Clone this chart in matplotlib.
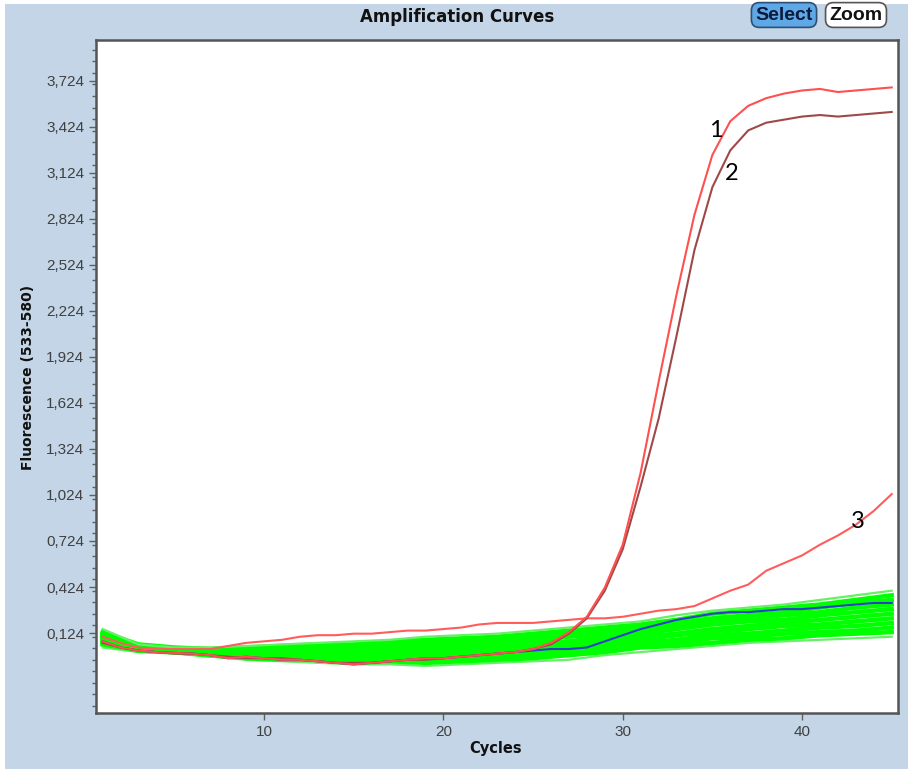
import numpy as np
import matplotlib
matplotlib.use("Agg")
import matplotlib.pyplot as plt
from matplotlib.patches import Rectangle
from matplotlib.ticker import FixedLocator, FuncFormatter

"""
amplification curves (qPCR), values read off the screenshot
"""

cycles = list(range(1, 46))

sample_1 = [0.07, 0.03, 0.01, 0.00, -0.005, -0.01, -0.02, -0.04, -0.03, -0.04,
            -0.05, -0.05, -0.06, -0.07, -0.08, -0.07, -0.06, -0.05, -0.04, -0.04,
            -0.03, -0.02, -0.01, 0.00, 0.02, 0.06, 0.13, 0.23, 0.42, 0.70,
            1.17, 1.76, 2.33, 2.85, 3.24, 3.46, 3.56, 3.61, 3.64, 3.66,
            3.67, 3.65, 3.66, 3.67, 3.68]

sample_2 = [0.06, 0.03, 0.01, 0.00, -0.01, -0.01, -0.02, -0.03, -0.04, -0.04,
            -0.04, -0.05, -0.06, -0.07, -0.07, -0.07, -0.06, -0.05, -0.05, -0.04,
            -0.03, -0.02, -0.01, 0.00, 0.02, 0.05, 0.12, 0.22, 0.40, 0.67,
            1.08, 1.52, 2.06, 2.62, 3.03, 3.27, 3.40, 3.45, 3.47, 3.49,
            3.50, 3.49, 3.50, 3.51, 3.52]

sample_3 = [0.10, 0.06, 0.03, 0.02, 0.02, 0.02, 0.02, 0.04, 0.06, 0.07,
            0.08, 0.10, 0.11, 0.11, 0.12, 0.12, 0.13, 0.14, 0.14, 0.15,
            0.16, 0.18, 0.19, 0.19, 0.19, 0.20, 0.21, 0.22, 0.22, 0.23,
            0.25, 0.27, 0.28, 0.30, 0.35, 0.40, 0.44, 0.53, 0.58, 0.63,
            0.70, 0.76, 0.83, 0.92, 1.03]

blue_curve = [0.07, 0.03, 0.01, 0.00, -0.005, -0.01, -0.02, -0.04, -0.03, -0.04,
              -0.05, -0.05, -0.06, -0.07, -0.08, -0.07, -0.06, -0.05, -0.04, -0.04,
              -0.03, -0.02, -0.01, 0.00, 0.01, 0.02, 0.02, 0.03, 0.07, 0.11,
              0.15, 0.18, 0.21, 0.23, 0.25, 0.26, 0.26, 0.27, 0.28, 0.28,
              0.29, 0.30, 0.31, 0.32, 0.32]

# negative samples, read every second cycle
green_cycles = list(range(1, 46, 2))
green_curves = [
    [0.03, 0.00, -0.01, -0.03, -0.05, -0.06, -0.07, -0.08, -0.08, -0.09, -0.08, -0.07,
     -0.06, -0.05, -0.02, 0.00, 0.02, 0.04, 0.06, 0.07, 0.08, 0.09, 0.10],
    [0.05, 0.01, 0.00, -0.02, -0.04, -0.05, -0.05, -0.07, -0.06, -0.07, -0.06, -0.05,
     -0.04, -0.02, 0.00, 0.03, 0.04, 0.06, 0.08, 0.09, 0.11, 0.12, 0.13],
    [0.06, 0.01, 0.00, -0.02, -0.03, -0.04, -0.04, -0.05, -0.05, -0.05, -0.04, -0.03,
     -0.02, 0.00, 0.02, 0.04, 0.06, 0.09, 0.10, 0.12, 0.13, 0.14, 0.16],
    [0.07, 0.02, 0.01, -0.01, -0.02, -0.03, -0.03, -0.03, -0.03, -0.03, -0.02, -0.01,
     0.00, 0.02, 0.04, 0.06, 0.08, 0.11, 0.12, 0.14, 0.16, 0.17, 0.19],
    [0.08, 0.02, 0.01, -0.01, -0.01, -0.02, -0.02, -0.02, -0.02, -0.02, -0.01, 0.01,
     0.02, 0.03, 0.06, 0.08, 0.11, 0.13, 0.15, 0.17, 0.18, 0.20, 0.22],
    [0.09, 0.03, 0.01, 0.00, 0.00, -0.01, -0.01, -0.01, 0.00, 0.00, 0.01, 0.03,
     0.04, 0.05, 0.08, 0.10, 0.12, 0.15, 0.17, 0.19, 0.21, 0.23, 0.25],
    [0.10, 0.03, 0.02, 0.01, 0.00, 0.00, 0.01, 0.01, 0.02, 0.02, 0.03, 0.04,
     0.06, 0.07, 0.10, 0.12, 0.15, 0.18, 0.20, 0.21, 0.24, 0.26, 0.28],
    [0.11, 0.04, 0.02, 0.01, 0.01, 0.02, 0.02, 0.03, 0.03, 0.04, 0.05, 0.06,
     0.08, 0.10, 0.12, 0.14, 0.17, 0.20, 0.22, 0.24, 0.26, 0.29, 0.31],
    [0.12, 0.04, 0.02, 0.02, 0.02, 0.03, 0.03, 0.04, 0.05, 0.06, 0.07, 0.08,
     0.10, 0.12, 0.14, 0.16, 0.19, 0.22, 0.24, 0.26, 0.29, 0.32, 0.34],
    [0.13, 0.05, 0.03, 0.02, 0.03, 0.04, 0.05, 0.05, 0.07, 0.08, 0.09, 0.10,
     0.12, 0.14, 0.16, 0.18, 0.21, 0.25, 0.27, 0.29, 0.31, 0.34, 0.37],
    [0.15, 0.05, 0.03, 0.03, 0.04, 0.05, 0.06, 0.07, 0.08, 0.10, 0.11, 0.12,
     0.14, 0.16, 0.18, 0.20, 0.24, 0.27, 0.29, 0.31, 0.34, 0.37, 0.40],
]

y_ticks = [0.124, 0.424, 0.724, 1.024, 1.324, 1.624, 1.924, 2.224, 2.524,
           2.824, 3.124, 3.424, 3.724]
x_ticks = [10, 20, 30, 40]
curve_labels = [("1", 35.2, 3.40), ("2", 36.05, 3.12), ("3", 43.1, 0.85)]

bg_blue = "#C3D5E6"
tick_grey = "#404040"

fig = plt.figure(figsize=(9.08, 7.69), dpi=100, facecolor="white")
fig.patches.append(Rectangle((5 / 908, 0), 1, 1 - 4 / 769, transform=fig.transFigure,
                             facecolor=bg_blue, edgecolor="none", zorder=-10))

ax = fig.add_axes([96 / 908, 1 - 713 / 769, 802 / 908, 673 / 769])
ax.set_facecolor("white")

for i, vals in enumerate(green_curves):
    if i in (0, len(green_curves) - 1):
        ax.plot(green_cycles, vals, color="#66F066", lw=1.6, zorder=2)
    else:
        ax.plot(green_cycles, vals, color="#00FF00", lw=3.2, zorder=2)

ax.plot(cycles, blue_curve, color="#2D3FC8", lw=1.5, zorder=3)
ax.plot(cycles, sample_3, color="#FF5C5C", lw=1.5, zorder=4)
ax.plot(cycles, sample_2, color="#A04848", lw=1.5, zorder=4)
ax.plot(cycles, sample_1, color="#FF5050", lw=1.5, zorder=5)

for text, cx, cy in curve_labels:
    ax.text(cx, cy, text, fontsize=17, family="Lato", color="black",
            ha="center", va="center", zorder=6)

ax.set_xlim(0.63, 45.35)
ax.set_ylim(-0.397, 3.989)

ax.yaxis.set_major_locator(FixedLocator(y_ticks))
ax.yaxis.set_minor_locator(FixedLocator(np.arange(-0.351, 3.99, 0.075)))
ax.yaxis.set_major_formatter(FuncFormatter(lambda v, p: f"{v:.3f}".replace(".", ",")))
ax.xaxis.set_major_locator(FixedLocator(x_ticks))

ax.tick_params(axis="both", which="major", direction="out", length=5, width=1,
               color="#606060", labelcolor=tick_grey, labelsize=11)
ax.tick_params(axis="y", which="minor", direction="out", length=3, width=1,
               color="#606060")
for lab in ax.get_xticklabels() + ax.get_yticklabels():
    lab.set_family("Liberation Sans")

for side in ["left", "right", "top", "bottom"]:
    ax.spines[side].set_color("#555555")
    ax.spines[side].set_linewidth(1.8)

fig.text(457 / 908, 1 - 17 / 769, "Amplification Curves", fontsize=12,
         fontweight="bold", ha="center", va="center", color="#111111")
fig.text(496 / 908, 1 - 748 / 769, "Cycles", fontsize=10.5, fontweight="bold",
         ha="center", va="center", color="#111111")
fig.text(28 / 908, 1 - 377 / 769, "Fluorescence (533-580)", fontsize=10,
         fontweight="bold", rotation=90, ha="center", va="center", color="#111111")

# toolbar buttons at the top right
fig.text(784 / 908, 1 - 15 / 769, "Select", fontsize=14, fontweight="bold",
         family="Liberation Sans", ha="center", va="center", color="#0A1A3A",
         bbox=dict(boxstyle="round,pad=0.2,rounding_size=0.4", facecolor="#5FA8E8",
                   edgecolor="#2F4F70", lw=1.2))
fig.text(856 / 908, 1 - 15 / 769, "Zoom", fontsize=14, fontweight="bold",
         family="Liberation Sans", ha="center", va="center", color="#111111",
         bbox=dict(boxstyle="round,pad=0.2,rounding_size=0.4", facecolor="white",
                   edgecolor="#555555", lw=1.2))

fig.savefig("out.png", dpi=100, facecolor=fig.get_facecolor())
